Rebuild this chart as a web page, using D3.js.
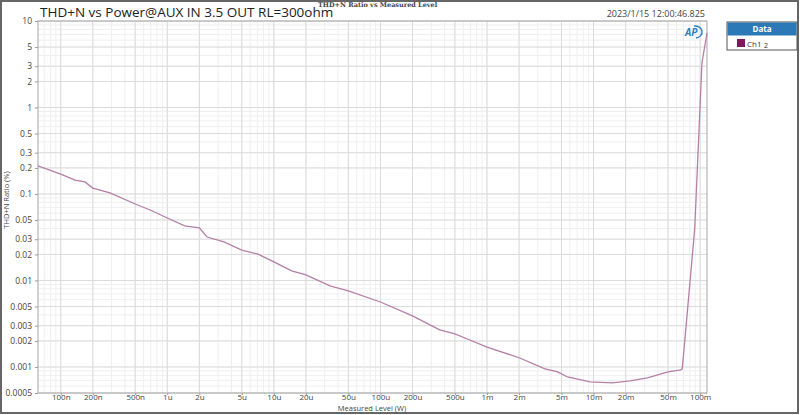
<!DOCTYPE html>
<html>
<head>
<meta charset="utf-8">
<script src="https://cdn.jsdelivr.net/npm/d3@7"></script>
<style>
  body { margin: 0; background: #fff; }
  svg { display: block; font-family: "Open Sans", "Noto Sans", sans-serif; }
</style>
</head>
<body>
<svg id="chart" width="800" height="415"></svg>
<script>
// measured level (W) and THD+N ratio (%)
const power = [6.12e-8, 1e-7, 1.36e-7, 1.69e-7, 2e-7, 2.9e-7, 5e-7, 6.9e-7, 1e-6, 1.46e-6,
  2e-6, 2.36e-6, 3.4e-6, 5e-6, 7.1e-6, 1e-5, 1.47e-5, 2e-5, 3.36e-5, 5e-5,
  1e-4, 2e-4, 3.6e-4, 5e-4, 6.9e-4, 1e-3, 2.03e-3, 3.5e-3, 4.6e-3, 5.7e-3,
  9.3e-3, 1.5e-2, 2.2e-2, 3.2e-2, 5e-2, 6.6e-2, 6.8e-2, 8.9e-2, 1.04e-1, 1.16e-1];
const thd = [0.211, 0.170, 0.145, 0.138, 0.117, 0.103, 0.0766, 0.0653, 0.0528, 0.0427,
  0.0405, 0.0318, 0.0279, 0.0225, 0.0202, 0.0164, 0.0129, 0.0116, 0.00864, 0.00757,
  0.00564, 0.00389, 0.00268, 0.00241, 0.00205, 0.00170, 0.00127, 0.000948, 0.000875, 0.000766,
  0.000671, 0.000653, 0.000689, 0.000746, 0.000875, 0.000923, 0.00095, 0.040, 3.27, 7.27];

const xTicks = [1e-7, 2e-7, 5e-7, 1e-6, 2e-6, 5e-6, 1e-5, 2e-5, 5e-5, 1e-4, 2e-4, 5e-4,
  1e-3, 2e-3, 5e-3, 1e-2, 2e-2, 5e-2, 1e-1];
const xTickLabels = ['100n', '200n', '500n', '1u', '2u', '5u', '10u', '20u', '50u', '100u', '200u', '500u',
  '1m', '2m', '5m', '10m', '20m', '50m', '100m'];
const yTicks = [10, 5, 3, 2, 1, 0.5, 0.3, 0.2, 0.1, 0.05, 0.03, 0.02, 0.01, 0.005, 0.003, 0.002, 0.001, 0.0005];

const plotL = 38, plotR = 707, plotT = 21, plotB = 393;

const svg = d3.select('#chart');

// window frame
svg.append('rect').attr('x', 1).attr('y', 1).attr('width', 797).attr('height', 412)
  .attr('fill', 'none').attr('stroke', '#666').attr('stroke-width', 2);

const x = d3.scaleLog().domain([6.12e-8, 1.16e-1]).range([plotL, plotR]);
const y = d3.scaleLog().domain([0.0005, 10]).range([plotB, plotT]);

// minor grid
const minorX = [];
for (let e = -8; e <= -1; e++) for (let m = 1; m <= 9; m++) {
  const v = m * Math.pow(10, e);
  if (v >= x.domain()[0] && v <= x.domain()[1]) minorX.push(v);
}
const minorY = [];
for (let e = -4; e <= 1; e++) for (let m = 1; m <= 9; m++) {
  const v = m * Math.pow(10, e);
  if (v >= 0.0005 && v <= 10) minorY.push(v);
}

svg.append('g').selectAll('line').data(minorX).enter().append('line')
  .attr('x1', d => x(d)).attr('x2', d => x(d)).attr('y1', plotT).attr('y2', plotB)
  .attr('stroke', '#efefef');
svg.append('g').selectAll('line').data(minorY).enter().append('line')
  .attr('y1', d => y(d)).attr('y2', d => y(d)).attr('x1', plotL).attr('x2', plotR)
  .attr('stroke', '#efefef');

// major grid
svg.append('g').selectAll('line').data(xTicks).enter().append('line')
  .attr('x1', d => x(d)).attr('x2', d => x(d)).attr('y1', plotT).attr('y2', plotB)
  .attr('stroke', '#dcdcdc');
svg.append('g').selectAll('line').data(yTicks).enter().append('line')
  .attr('y1', d => y(d)).attr('y2', d => y(d)).attr('x1', plotL).attr('x2', plotR)
  .attr('stroke', '#dcdcdc');

// axes
const xAxis = d3.axisBottom(x).tickValues(xTicks)
  .tickFormat((d, i) => xTickLabels[i]).tickSize(2);
const yAxis = d3.axisLeft(y).tickValues(yTicks)
  .tickFormat(d => String(d)).tickSize(3);

const gx = svg.append('g').attr('transform', `translate(0,${plotB})`).call(xAxis);
const gy = svg.append('g').attr('transform', `translate(${plotL},0)`).call(yAxis);
[gx, gy].forEach(g => {
  g.select('.domain').remove();
  g.selectAll('.tick line').attr('stroke', '#999');
  g.selectAll('.tick text').attr('fill', '#444').attr('font-size', 8.5)
    .attr('font-family', '"Open Sans", sans-serif');
});
gx.selectAll('.tick text').attr('font-size', 8).attr('y', 1).attr('dy', '0.75em');

// plot frame
svg.append('rect').attr('x', plotL).attr('y', plotT)
  .attr('width', plotR - plotL).attr('height', plotB - plotT)
  .attr('fill', 'none').attr('stroke', '#a8a8a8');

// curve
const pts = power.map((p, i) => [p, thd[i]]);
svg.append('path').datum(pts)
  .attr('fill', 'none').attr('stroke', '#b57fa6').attr('stroke-width', 1.3)
  .attr('d', d3.line().x(d => x(d[0])).y(d => y(d[1])));

// titles
svg.append('text').attr('x', 40).attr('y', 17).attr('font-size', 13.5).attr('fill', '#222')
  .text('THD+N vs Power@AUX IN 3.5 OUT RL=300ohm');
svg.append('text').attr('x', 318).attr('y', 7).attr('font-size', 6.5).attr('fill', '#444')
  .attr('font-family', '"DejaVu Serif", serif').attr('font-weight', 'bold')
  .text('THD+N Ratio vs Measured Level');
svg.append('text').attr('x', 705).attr('y', 17).attr('text-anchor', 'end')
  .attr('font-size', 9).attr('fill', '#444').text('2023/1/15 12:00:46.825');

svg.append('text').attr('x', 372).attr('y', 411).attr('text-anchor', 'middle')
  .attr('font-size', 7.5).attr('fill', '#444').text('Measured Level (W)');
svg.append('text').attr('transform', `translate(9,200) rotate(-90)`)
  .attr('text-anchor', 'middle').attr('font-size', 7.5).attr('fill', '#444')
  .text('THD+N Ratio (%)');

// AP logo
const logo = svg.append('g').attr('transform', 'translate(692,32)');
logo.append('path').attr('d', 'M2,-6 A7,6 0 0 1 4,6').attr('fill', 'none')
  .attr('stroke', '#2f7fc1').attr('stroke-width', 1.4);
logo.append('text').attr('x', -7).attr('y', 3.5).attr('font-size', 10)
  .attr('font-style', 'italic').attr('font-weight', 'bold').attr('fill', '#2f7fc1')
  .text('AP');

// legend
const lg = svg.append('g').attr('transform', 'translate(727,22)');
lg.append('rect').attr('width', 70).attr('height', 28).attr('fill', '#fff')
  .attr('stroke', '#555');
lg.append('rect').attr('x', 0.5).attr('y', 0.5).attr('width', 69).attr('height', 13)
  .attr('fill', '#2b79b6');
lg.append('text').attr('x', 35).attr('y', 10).attr('text-anchor', 'middle')
  .attr('font-size', 8).attr('font-weight', 'bold').attr('fill', '#fff').text('Data');
lg.append('rect').attr('x', 10).attr('y', 17).attr('width', 8).attr('height', 8)
  .attr('fill', '#7d1a5e');
lg.append('text').attr('x', 20).attr('y', 24.5).attr('font-size', 8).attr('fill', '#333')
  .text('Ch1');
lg.append('text').attr('x', 37).attr('y', 26).attr('font-size', 7).attr('fill', '#333')
  .text('2');
</script>
</body>
</html>
